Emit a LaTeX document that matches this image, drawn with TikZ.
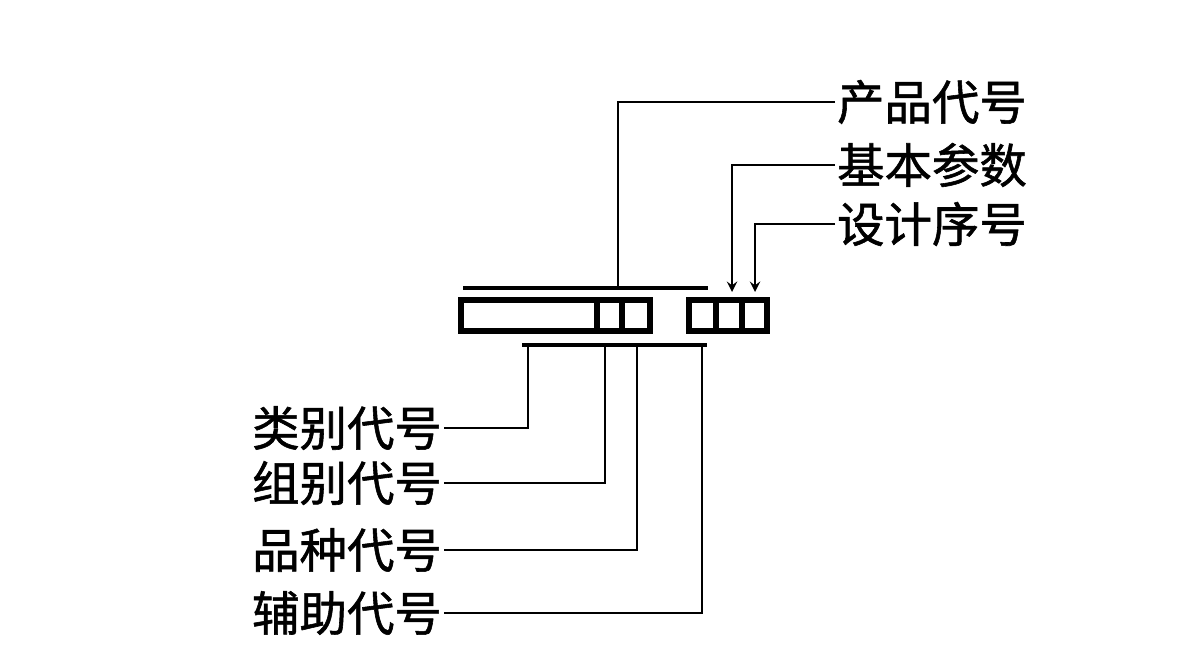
\documentclass[tikz,border=0pt]{standalone}
\usepackage{fontspec}
\setmainfont{Noto Sans CJK SC}
\newfontfamily\labelfont{Noto Sans CJK SC}[FakeBold=1.2]
\begin{document}
\begin{tikzpicture}[x=0.02cm,y=-0.02cm,
        leader/.style={line width=1.6pt},
        cell/.style={draw,line width=3pt},
        label/.style={font=\labelfont\fontsize{27}{29}\selectfont,inner sep=1pt}]
        \useasboundingbox (0,0) rectangle (1181,668);
        
        % code boxes
        \draw[cell] (461,300) rectangle (650,331); % main code
        \draw[cell] (597,300) -- (597,331);
        \draw[cell] (622,300) -- (622,331);
        \draw[cell] (689,300) rectangle (767,331); % parameters
        \draw[cell] (716,300) -- (716,331);
        \draw[cell] (742,300) -- (742,331);
        
        % brackets
        \coordinate (tl) at (463,288);
        \coordinate (tr) at (708,288);
        \draw[leader,line width=2pt] (tl) -- (tr);
        \coordinate (bl) at (522,345);
        \coordinate (br) at (707,345);
        \draw[leader,line width=2pt] (bl) -- (br);
        
        % texts
        %% upper labels
        \node[label,anchor=west] (prod) at (835,102) {产品代号};
        \node[label,anchor=west] (param) at (835,165) {基本参数};
        \node[label,anchor=west] (seq) at (835,224) {设计序号};
        %% lower labels
        \node[label,anchor=east] (cls) at (444,428) {类别代号};
        \node[label,anchor=east] (grp) at (444,483) {组别代号};
        \node[label,anchor=east] (kind) at (444,550) {品种代号};
        \node[label,anchor=east] (aux) at (444,613) {辅助代号};
        
        % leaders
        %% upper
        \coordinate (prodend) at (618,288);
        \coordinate (paramend) at (732,292);
        \coordinate (seqend) at (755,292);
        \draw[leader] (prod.west) -| (prodend);
        \draw[leader,-stealth] (param.west) -| (paramend);
        \draw[leader,-stealth] (seq.west) -| (seqend);
        
        %% lower
        \coordinate (clsend) at (528,345);
        \coordinate (grpend) at (605,345);
        \coordinate (kindend) at (637,345);
        \coordinate (auxend) at (702,345);
        \draw[leader] (cls.east) -| (clsend);
        \draw[leader] (grp.east) -| (grpend);
        \draw[leader] (kind.east) -| (kindend);
        \draw[leader] (aux.east) -| (auxend);
        
    \end{tikzpicture}
\end{document}
